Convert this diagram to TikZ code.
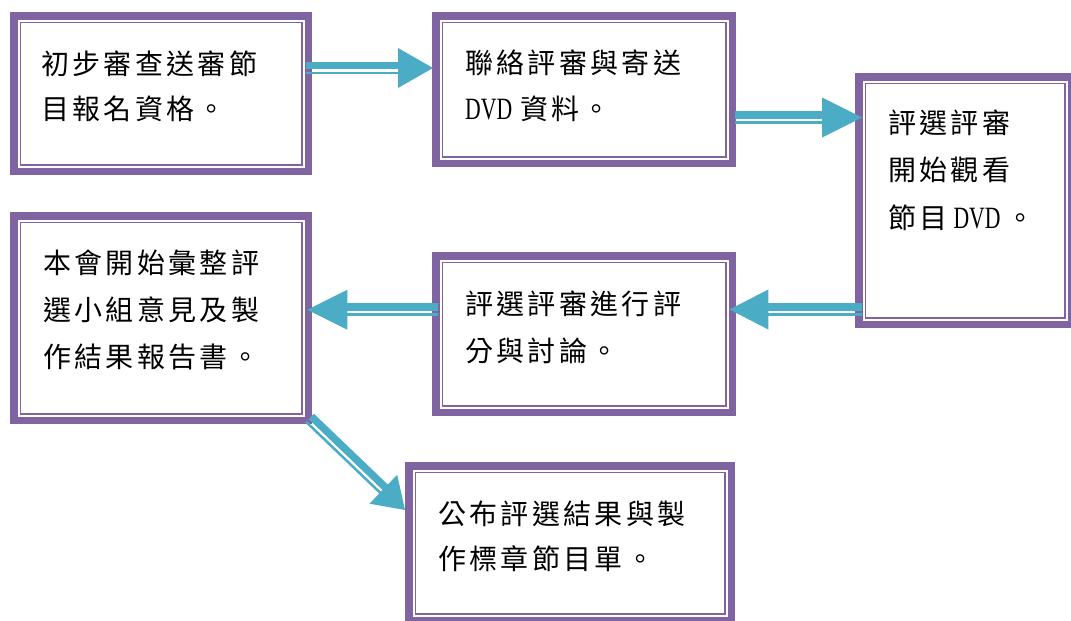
\documentclass[tikz,border=0pt]{standalone}
\usepackage{fontspec}
\setmainfont{Noto Sans CJK TC}[LetterSpace=12]
\newfontfamily\latin{Liberation Serif}[FakeStretch=0.7]
\usetikzlibrary{calc}
\definecolor{pur}{HTML}{8064A2}
\definecolor{tea}{HTML}{4BACC6}
\newcommand\dvd{{\latin\fontsize{31}{46}\selectfont DVD}}
\newcommand\dframe[1]{%
  \draw[pur, line width=7.5pt] ([shift={(3.75,3.75)}]#1.north west) rectangle ([shift={(-3.75,-3.75)}]#1.south east);
  \draw[pur, line width=1.8pt] ([shift={(10.5,10.5)}]#1.north west) rectangle ([shift={(-10.5,-10.5)}]#1.south east);}
% #1 start, #2 tip, #3 thin-side angle, #4 thick-side angle, #5 head length
\newcommand\dblarr[5]{%
  \coordinate (hb) at ($(#2)!#5pt!(#1)$);
  \coordinate (hb2) at ($(hb)!1pt!(#2)$);
  \draw[tea, line width=7.5pt] ($(#1)!2.75pt!#4:(#2)$) -- ($(hb2)!2.75pt!#4:(#2)$);
  \draw[tea, line width=2.5pt] ($(#1)!4.75pt!#3:(#2)$) -- ($(hb2)!4.75pt!#3:(#2)$);
  \fill[tea] ($(hb)!20pt!90:(#2)$) -- (#2) -- ($(hb)!20pt!-90:(#2)$) -- cycle;}
\tikzset{
  box/.style={inner sep=0pt, anchor=north west},
  txt/.style={anchor=base west, inner sep=0pt, align=left, font=\fontsize{28}{#1}\selectfont}
}
\begin{document}
\begin{tikzpicture}[x=1pt,y=-1pt]
\useasboundingbox (0,0) rectangle (1071,621);
\fill[white] (0,0) rectangle (1071,621);
% boxes
\node[box, minimum width=302pt, minimum height=163pt] (b1) at (10,12) {};
\node[box, minimum width=304pt, minimum height=155pt] (b2) at (432,12) {};
\node[box, minimum width=220pt, minimum height=255pt] (b3) at (855,73) {};
\node[box, minimum width=302pt, minimum height=212pt] (b4) at (10,212) {};
\node[box, minimum width=304pt, minimum height=164pt] (b5) at (432,252) {};
\node[box, minimum width=330pt, minimum height=162pt] (b6) at (405,462) {};
\foreach \b in {b1,b2,b3,b4,b5,b6} {\dframe{\b}}
% texts (anchored at the baseline of the last line)
\node[txt=45] (t1) at (41,119) {初步審查送審節\\目報名資格。};
\node[txt=46] (t2) at (465,119) {聯絡評審與寄送\\\dvd\hspace{8pt}資料。};
\node[txt=47.5] (t3) at (888,228) {評選評審\\開始觀看\\節目\hspace{6pt}\dvd\hspace{6pt}。};
\node[txt=47] (t4) at (43,367) {本會開始彙整評\\選小組意見及製\\作結果報告書。};
\node[txt=47] (t5) at (465,361) {評選評審進行評\\分與討論。};
\node[txt=45] (t6) at (438,569) {公布評選結果與製\\作標章節目單。};
% connector end points
\coordinate (a1s) at ($(b1.north east)+(-6,56)$);
\coordinate (a1t) at ($(b2.north west)+(1,56)$);
\coordinate (a2s) at ($(b2.north east)+(-1,105.5)$);
\coordinate (a2t) at ($(b3.north west)+(7,44.5)$);
\coordinate (a3s) at ($(b3.north west)+(7,236.5)$);
\coordinate (a3t) at ($(b5.north east)+(-7,57.5)$);
\coordinate (a4s) at ($(b5.north west)+(6,57.7)$);
\coordinate (a4t) at ($(b4.north east)+(-5,97.7)$);
\coordinate (a5s) at ($(b4.south east)+(-3,-6)$);
\coordinate (a5t) at ($(b6.north west)+(0,48)$);
% arrows
\dblarr{a1s}{a1t}{-90}{90}{35}
\dblarr{a2s}{a2t}{-90}{90}{40}
\dblarr{a3s}{a3t}{90}{-90}{39}
\dblarr{a4s}{a4t}{90}{-90}{40}
\dblarr{a5s}{a5t}{-90}{90}{30}
\end{tikzpicture}
\end{document}
